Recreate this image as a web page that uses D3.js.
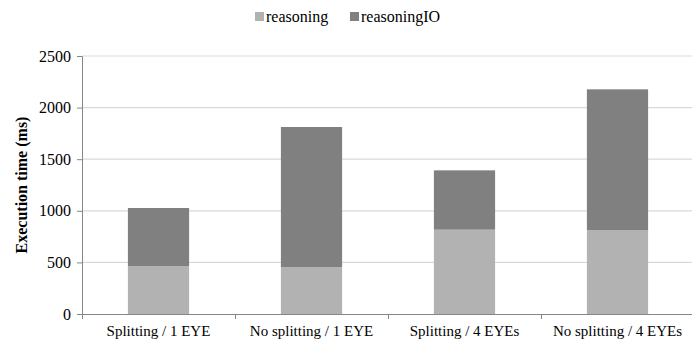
<!DOCTYPE html>
<html>
<head>
<meta charset="utf-8">
<script src="https://cdn.jsdelivr.net/npm/d3@7"></script>
<style>
  body { margin: 0; background: #fff; }
  svg text { font-family: "Times New Roman", "Liberation Serif", "DejaVu Serif", serif; }
</style>
</head>
<body>
<div id="chart"></div>
<script>
// data
var categories = ["Splitting / 1 EYE", "No splitting / 1 EYE", "Splitting / 4 EYEs", "No splitting / 4 EYEs"];
var seriesNames = ["reasoning", "reasoningIO"];
var reasoning = [462, 455, 817, 814];
var reasoningIO = [565, 1357, 575, 1363];
var yTicks = [0, 500, 1000, 1500, 2000, 2500];
var colours = ["#b2b2b2", "#808080"];

var setWidth = 692, setHeight = 341;
var margin = {top: 56, right: -2, bottom: 27, left: 82};
var width = setWidth - margin.left - margin.right;
var height = setHeight - margin.top - margin.bottom;

var root = d3.select("#chart")
    .append("svg")
    .attr("width", setWidth)
    .attr("height", setHeight);

var svg = root.append("g")
    .attr("transform", "translate(" + margin.left + "," + margin.top + ")");

var x = d3.scaleBand()
    .domain(categories)
    .range([0, width])
    .paddingInner(0.6)
    .paddingOuter(0.3);

var y = d3.scaleLinear()
    .domain([0, 2500])
    .range([height, 0]);

// gridlines
svg.append("g")
    .selectAll("line")
    .data(yTicks.slice(1))
    .join("line")
    .attr("x1", 0)
    .attr("x2", width)
    .attr("y1", function (d) { return y(d); })
    .attr("y2", function (d) { return y(d); })
    .attr("stroke", "#d9d9d9")
    .attr("stroke-width", 1.2);

// stacked bars
var rows = categories.map(function (c, i) {
    return {cat: c, reasoning: reasoning[i], reasoningIO: reasoningIO[i]};
});
var stacked = d3.stack().keys(seriesNames)(rows);

svg.append("g")
    .selectAll("g")
    .data(stacked)
    .join("g")
    .attr("fill", function (d, i) { return colours[i]; })
    .selectAll("rect")
    .data(function (d) { return d; })
    .join("rect")
    .attr("x", function (d) { return x(d.data.cat); })
    .attr("y", function (d) { return y(d[1]); })
    .attr("width", x.bandwidth())
    .attr("height", function (d) { return y(d[0]) - y(d[1]); });

// y axis
var yAxis = svg.append("g")
    .call(d3.axisLeft(y).tickValues(yTicks).tickFormat(d3.format("d")).tickSize(5).tickPadding(6));
yAxis.attr("font-family", null).attr("font-size", null);
yAxis.selectAll("text").style("font-size", "16px").attr("fill", "#000");
yAxis.selectAll("line, path").attr("stroke", "#868686");
yAxis.select(".domain").attr("d", "M-5,0.5H0.5V" + height);

// x axis
var step = x.step();
var xg = svg.append("g").attr("transform", "translate(0," + height + ")");
xg.append("line")
    .attr("x1", 0).attr("x2", width)
    .attr("y1", 0.5).attr("y2", 0.5)
    .attr("stroke", "#868686");
xg.selectAll(".tk")
    .data(d3.range(categories.length))
    .join("line")
    .attr("x1", function (i) { return i * step + 0.5; })
    .attr("x2", function (i) { return i * step + 0.5; })
    .attr("y1", 0).attr("y2", 5)
    .attr("stroke", "#868686");
xg.selectAll("text")
    .data(categories)
    .join("text")
    .attr("x", function (d) { return x(d) + x.bandwidth() / 2; })
    .attr("y", 22)
    .attr("text-anchor", "middle")
    .style("font-size", "15px")
    .text(function (d) { return d; });

// y axis label
svg.append("text")
    .attr("transform", "rotate(-90)")
    .attr("x", -height / 2)
    .attr("y", -margin.left + 27)
    .attr("text-anchor", "middle")
    .style("font-size", "16px")
    .style("font-weight", "bold")
    .text("Execution time (ms)");

// legend
var legend = root.append("g");
var legendX = [255, 350];
seriesNames.forEach(function (name, i) {
    legend.append("rect")
        .attr("x", legendX[i])
        .attr("y", 12)
        .attr("width", 9)
        .attr("height", 9)
        .attr("fill", colours[i]);
    legend.append("text")
        .attr("x", legendX[i] + 11)
        .attr("y", 22)
        .style("font-size", "16px")
        .text(name);
});
</script>
</body>
</html>
